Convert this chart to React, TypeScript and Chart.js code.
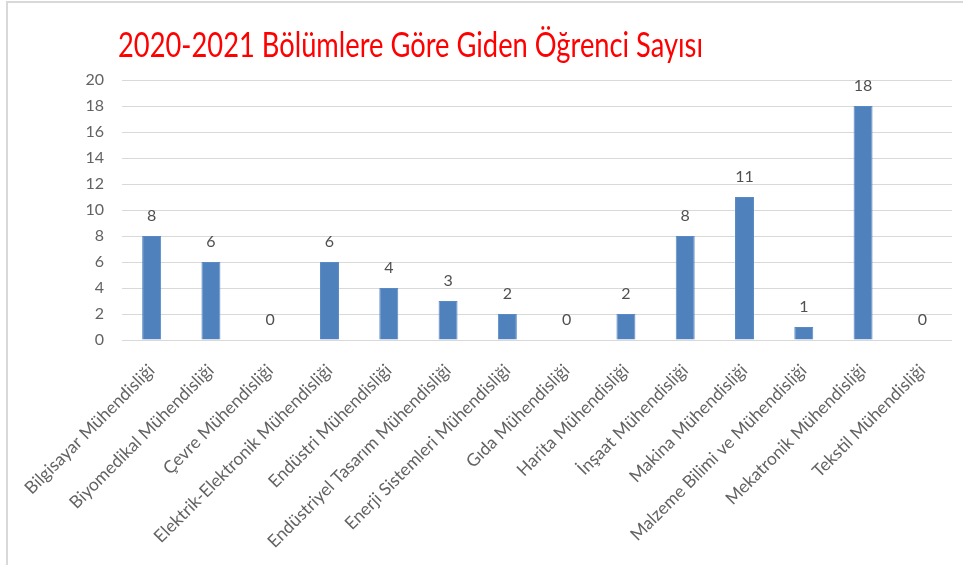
import React, { useEffect, useRef } from 'react';
import { Chart, registerables } from 'chart.js';

Chart.register(...registerables);

const titleText = '2020-2021 Bölümlere Göre Giden Öğrenci Sayısı';

const categories = [
  'Bilgisayar Mühendisliği',
  'Biyomedikal Mühendisliği',
  'Çevre Mühendisliği',
  'Elektrik-Elektronik Mühendisliği',
  'Endüstri Mühendisliği',
  'Endüstriyel Tasarım Mühendisliği',
  'Enerji Sistemleri Mühendisliği',
  'Gıda Mühendisliği',
  'Harita Mühendisliği',
  'İnşaat Mühendisliği',
  'Makina Mühendisliği',
  'Malzeme Bilimi ve Mühendisliği',
  'Mekatronik Mühendisliği',
  'Tekstil Mühendisliği',
];

const studentCounts = [8, 6, 0, 6, 4, 3, 2, 0, 2, 8, 11, 1, 18, 0];

const yMin = 0;
const yMax = 20;
const yStep = 2;

const FONT = 'Lato';

const decorPlugin = {
  id: 'decor',
  beforeDraw(chart: any) {
    const ctx = chart.ctx;
    ctx.save();
    ctx.fillStyle = '#ffffff';
    ctx.fillRect(0, 0, chart.width, chart.height);
    ctx.fillStyle = '#d9d9d9';
    ctx.fillRect(6, 1, chart.width - 6, 2);
    ctx.fillRect(6, 1, 2, chart.height - 1);
    ctx.restore();
  },
  afterDatasetsDraw(chart: any) {
    const ctx = chart.ctx;
    const meta = chart.getDatasetMeta(0);
    ctx.save();
    ctx.font = `16px ${FONT}`;
    ctx.fillStyle = '#505050';
    ctx.textAlign = 'center';
    ctx.textBaseline = 'alphabetic';
    meta.data.forEach((bar: any, i: number) => {
      ctx.fillText(String(studentCounts[i]), bar.x, bar.y - 15);
    });
    ctx.restore();
  },
  afterDraw(chart: any) {
    const ctx = chart.ctx;
    ctx.save();
    ctx.font = `34px ${FONT}`;
    ctx.fillStyle = '#ff0000';
    ctx.textAlign = 'left';
    ctx.textBaseline = 'alphabetic';
    const w = ctx.measureText(titleText).width;
    ctx.translate(118, 57);
    ctx.scale(585 / w, 1);
    ctx.fillText(titleText, 0, 0);
    ctx.restore();
  },
};

export default function App() {
  const ref = useRef<HTMLCanvasElement>(null);
  useEffect(() => {
    const chart = new Chart(ref.current as HTMLCanvasElement, {
      type: 'bar',
      data: {
        labels: categories,
        datasets: [
          {
            data: studentCounts,
            backgroundColor: '#4f81bd',
            borderColor: '#5a8ac4',
            borderWidth: 1,
            barPercentage: 0.32,
            categoryPercentage: 1,
          },
        ],
      },
      options: {
        responsive: false,
        animation: false,
        layout: { padding: { top: 80, right: 11, left: 0, bottom: 0 } },
        plugins: {
          legend: { display: false },
          tooltip: { enabled: false },
          title: { display: false },
        },
        scales: {
          x: {
            grid: { display: false },
            border: { display: false },
            ticks: {
              minRotation: 45,
              maxRotation: 45,
              autoSkip: false,
              color: '#636363',
              font: { family: FONT, size: 17.5 },
              padding: 12,
            },
            afterFit: (s: any) => {
              s.height = 225;
            },
          },
          y: {
            min: yMin,
            max: yMax,
            ticks: {
              stepSize: yStep,
              color: '#636363',
              font: { family: FONT, size: 16 },
              padding: 18,
            },
            grid: { color: '#d9d9d9', lineWidth: 1, drawTicks: false },
            border: { display: false },
            afterFit: (s: any) => {
              s.width = 122;
            },
          },
        },
      },
      plugins: [decorPlugin],
    } as any);
    return () => chart.destroy();
  }, []);
  return (
    <canvas
      ref={ref}
      width={963}
      height={565}
      style={{ position: 'fixed', left: 0, top: 0, width: 963, height: 565 }}
    />
  );
}
